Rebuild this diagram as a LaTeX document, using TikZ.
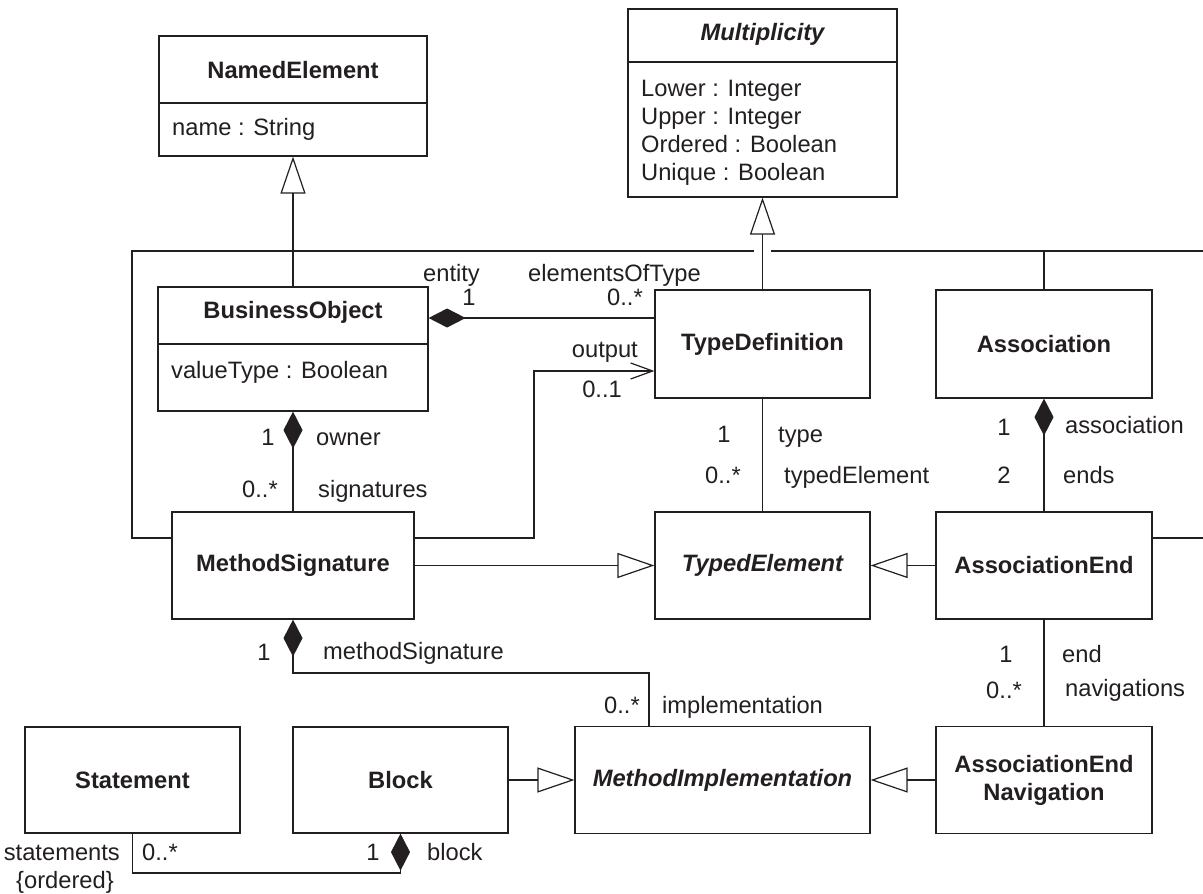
\documentclass[tikz,border=0pt]{standalone}
\usepackage{fontspec}
\setmainfont{Liberation Sans}
\usepackage{tikz}
\usetikzlibrary{arrows.meta}
\definecolor{ink}{HTML}{231F20}
\newcommand\dfont{\fontsize{23.7pt}{28pt}\selectfont}
\tikzset{
  cls/.style={draw=ink,line width=1.2pt,inner sep=0pt,align=center,font=\dfont\bfseries,text=ink},
  ttl/.style={inner sep=0pt,anchor=base,font=\dfont\bfseries,text=ink},
  att/.style={inner sep=0pt,anchor=base west,font=\dfont,text=ink},
  rl/.style={inner sep=0pt,font=\dfont,text=ink},
  ln/.style={line width=1.2pt,draw=ink},
  gen/.style={ln,-{Triangle[open,length=37pt,width=25pt]}},
  cmp/.style={ln,{Diamond[length=37pt,width=19pt]}-},
  nav/.style={ln,-{Straight Barb[length=22pt,width=16pt]}}
}

\begin{document}
\begin{tikzpicture}[x=1pt,y=-1pt]
\fill[white] (0,0) rectangle (1203,894);
\useasboundingbox (0,0) rectangle (1203,894);

\node[cls,minimum width=268pt,minimum height=120pt] (named) at (293,96) {};
\node[ttl] (namedT) at (293,78) {NamedElement};
\draw[ln] (named.west |- 0,103) -- (named.east |- 0,103);
\node[att] (namedA) at (172,135) {name : String};

\node[cls,minimum width=269pt,minimum height=188pt] (mult) at (762.5,103) {};
\node[ttl,font=\dfont\bfseries\itshape] (multT) at (762.5,40) {Multiplicity};
\draw[ln] (mult.west |- 0,62) -- (mult.east |- 0,62);
\foreach \a [count=\i] in {Lower : Integer,Upper : Integer,Ordered : Boolean,Unique : Boolean}
  \node[att] (multA\i) at (641,68+28*\i) {\a};

\node[cls,minimum width=270pt,minimum height=124pt] (busobj) at (293,349) {};
\node[ttl] (busobjT) at (293,318) {BusinessObject};
\draw[ln] (busobj.west |- 0,344) -- (busobj.east |- 0,344);
\node[att] (busobjA) at (171,378) {valueType : Boolean};

\node[cls,minimum width=215pt,minimum height=108pt] (typedef) at (762.5,344) {TypeDefinition};
\node[cls,minimum width=216pt,minimum height=108pt] (assoc) at (1044,344) {Association};
\node[cls,minimum width=242pt,minimum height=107pt] (methsig) at (293,565.5) {MethodSignature};
\node[cls,minimum width=215pt,minimum height=107pt,font=\dfont\bfseries\itshape] (typedel) at (762.5,565.5) {TypedElement};
\node[cls,minimum width=216pt,minimum height=107pt] (assocend) at (1044,565.5) {AssociationEnd};
\node[cls,minimum width=215pt,minimum height=106pt] (stmt) at (132.5,780) {Statement};
\node[cls,minimum width=215pt,minimum height=106pt] (block) at (400.5,780) {Block};
\node[cls,minimum width=295pt,minimum height=107pt,font=\dfont\bfseries\itshape] (methimpl) at (722.5,780) {MethodImplementation};
\node[cls,minimum width=216pt,minimum height=107pt] (aen) at (1044,780) {AssociationEnd\\Navigation};

\coordinate (treeL) at (132,251);
\coordinate (treeR) at (1203,251);
\coordinate (hopL) at (754,251);
\coordinate (hopR) at (771,251);
\coordinate (tdC) at ([yshift=26pt]typedef.west);
\coordinate (tdIn) at ([yshift=-27pt]typedef.west);
\coordinate (miIn) at ([xshift=-73.5pt]methimpl.north);

\draw[gen] (busobj.north) -- (named.south);
\draw[gen] (typedef.north) -- (mult.south);
\draw[ln] (methsig.west |- 0,538) -- (treeL |- 0,538) -- (treeL) -- (hopL);
\draw[ln] (hopR) -- (treeR);
\draw[ln] (assoc.north) -- (assoc.north |- treeR);
\draw[ln] (assocend.east |- 0,538) -- (treeR |- 0,538);

\draw[cmp] (busobj.east |- tdC) -- (tdC);
\draw[nav] (methsig.east |- 0,538) -- (534,538) |- (tdIn);
\draw[cmp] (busobj.south) -- (methsig.north);
\draw[ln] (typedef.south) -- (typedel.north);
\draw[cmp] (assoc.south) -- (assocend.north);
\draw[ln] (assocend.south) -- (aen.north);
\draw[gen] (methsig.east) -- (typedel.west);
\draw[gen] (assocend.west) -- (typedel.east);
\draw[gen] (block.east) -- (methimpl.west);
\draw[gen] (aen.west) -- (methimpl.east);
\draw[cmp] (methsig.south) -- (methsig.south |- 0,673) -| (miIn);
\draw[cmp] (block.south) -- (block.south |- 0,873) -| (stmt.south);

\node[rl,anchor=base west] (lEntity) at (423,281) {entity};
\node[rl,anchor=base] (mEntity) at (469,305) {1};
\node[rl,anchor=base west] (lElems) at (528,281) {elementsOfType};
\node[rl,anchor=base east] (mElems) at (643,305) {0..*};
\node[rl,anchor=base east] (lOutput) at (638,357) {output};
\node[rl,anchor=base east] (mOutput) at (622,397) {0..1};
\node[rl,anchor=base] (mOwner) at (268,445) {1};
\node[rl,anchor=base west] (lOwner) at (316,445) {owner};
\node[rl,anchor=base east] (mSigs) at (278,497) {0..*};
\node[rl,anchor=base west] (lSigs) at (318,497) {signatures};
\node[rl,anchor=base] (mType) at (724,442) {1};
\node[rl,anchor=base west] (lType) at (778,442) {type};
\node[rl,anchor=base east] (mTyped) at (741,483) {0..*};
\node[rl,anchor=base west] (lTyped) at (784,483) {typedElement};
\node[rl,anchor=base] (mAssoc) at (1004,435) {1};
\node[rl,anchor=base west] (lAssoc) at (1065,433) {association};
\node[rl,anchor=base] (mEnds) at (1004,483) {2};
\node[rl,anchor=base west] (lEnds) at (1063,483) {ends};
\node[rl,anchor=base] (mEnd) at (1006,662) {1};
\node[rl,anchor=base west] (lEnd) at (1062,662) {end};
\node[rl,anchor=base east] (mNavs) at (1022,698) {0..*};
\node[rl,anchor=base west] (lNavs) at (1065,696) {navigations};
\node[rl,anchor=base] (mMsig) at (264,660) {1};
\node[rl,anchor=base west] (lMsig) at (323,659) {methodSignature};
\node[rl,anchor=base east] (mImpl) at (640,713) {0..*};
\node[rl,anchor=base west] (lImpl) at (662,713) {implementation};
\node[rl,anchor=base east] (lStmts) at (120,860) {statements};
\node[rl,anchor=base] (lOrd) at (65,888) {\{ordered\}};
\node[rl,anchor=base west] (mStmts) at (142,860) {0..*};
\node[rl,anchor=base] (mBlock) at (373,860) {1};
\node[rl,anchor=base west] (lBlock) at (427,860) {block};
\end{tikzpicture}
\end{document}
